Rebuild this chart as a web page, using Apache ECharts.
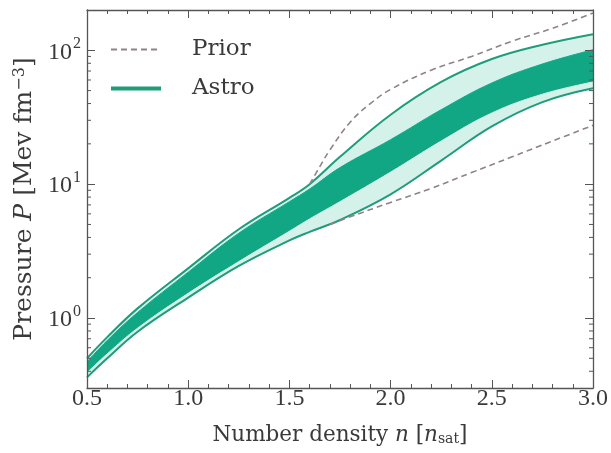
<!DOCTYPE html>
<html>
<head>
<meta charset="utf-8">
<script src="https://cdn.jsdelivr.net/npm/echarts@6/dist/echarts.min.js"></script>
<style>
  html, body { margin: 0; padding: 0; background: #fff; }
  #chart { width: 611px; height: 453px; }
</style>
</head>
<body>
<div id="chart"></div>
<script>
// number density grid (n_sat)
const nGrid = [0.5, 0.6, 0.75, 1.0, 1.25, 1.5, 1.6, 1.75, 2.0, 2.25, 2.5, 2.75, 3.0];

// astro posterior, outer (light) band edges
const astroOuterUpper = [0.50, 0.72, 1.18, 2.35, 4.6, 7.9, 10.0, 16.0, 33, 58, 86, 110, 132];
const astroOuterLower = [0.36, 0.50, 0.79, 1.42, 2.45, 3.8, 4.4, 5.4, 8.4, 15.0, 27, 41, 52];
// astro posterior, inner (dark) band edges
const astroInnerUpper = [0.47, 0.68, 1.10, 2.20, 4.3, 7.4, 9.2, 13.3, 21.5, 36, 57, 79, 101];
const astroInnerLower = [0.39, 0.54, 0.84, 1.53, 2.64, 4.45, 5.5, 7.4, 12.3, 21, 34, 47, 58];

// prior band (only where it leaves the astro band)
const priorUpperN = [1.6, 1.65, 1.7, 1.8, 1.9, 2.0, 2.2, 2.4, 2.6, 2.8, 3.0];
const priorUpperP = [10.0, 13.5, 18, 29, 40, 51, 71, 90, 117, 146, 190];
const priorLowerN = [1.7, 1.8, 2.0, 2.2, 2.4, 2.6, 2.8, 3.0];
const priorLowerP = [5.0, 5.7, 7.3, 9.3, 12.2, 16, 21, 27.5];

// axis ticks
const xTicks = ['0.5', '1.0', '1.5', '2.0', '2.5', '3.0'];
const yMinorTicks = [0.4, 0.5, 0.6, 0.7, 0.8, 0.9, 2, 3, 4, 5, 6, 7, 8, 9, 20, 30, 40, 50, 60, 70, 80, 90];

const xMin = 0.5, xMax = 3.0, yMin = 0.3, yMax = 200;

const font = 'Liberation Serif';
const titleFont = 'DejaVu Serif';
const axisColor = '#555';
const textColor = '#3a3a3a';
const edgeColor = '#1e9c7b';
const darkFill = '#12a784';
const lightFill = '#d4f2ea';
const priorColor = '#8e8388';

const pair = (xs, ys) => xs.map((x, i) => [x, ys[i]]);

const chart = echarts.init(document.getElementById('chart'));

const xAxisBase = {
    type: 'value',
    min: xMin,
    max: xMax,
    interval: 0.5,
    z: 5,
    axisLine: { lineStyle: { color: axisColor, width: 1.3 } },
    axisTick: { inside: true, length: 8, lineStyle: { color: axisColor } },
    minorTick: { show: true, splitNumber: 5, length: 4, lineStyle: { color: axisColor } },
    splitLine: { show: false }
};

const yAxisBase = {
    type: 'log',
    logBase: 10,
    min: yMin,
    max: yMax,
    z: 5,
    axisLine: { show: true, lineStyle: { color: axisColor, width: 1.3 } },
    axisTick: { show: true, inside: true, length: 8, lineStyle: { color: axisColor } },
    splitLine: { show: false }
};

const option = {
    animation: false,
    backgroundColor: '#fff',
    grid: { left: 87, right: 18, top: 10, bottom: 65, containLabel: false },
    legend: {
        orient: 'vertical',
        left: 104,
        top: 33,
        itemWidth: 50,
        itemHeight: 14,
        itemGap: 16,
        selectedMode: false,
        itemStyle: { opacity: 0 },
        textStyle: { fontFamily: titleFont, fontSize: 23, color: textColor, padding: [0, 0, 0, 26] },
        data: [
            { name: 'Prior' },
            { name: 'Astro', lineStyle: { width: 4, color: edgeColor } }
        ]
    },
    xAxis: [
        Object.assign({}, xAxisBase, {
            position: 'bottom',
            name: 'Number density {i|n} [{i|n}{sub|sat}]',
            nameLocation: 'middle',
            nameGap: 36,
            nameTextStyle: {
                fontFamily: titleFont, fontSize: 21.5, color: textColor,
                rich: {
                    i: { fontFamily: titleFont, fontSize: 21.5, fontStyle: 'italic', color: textColor },
                    sub: { fontFamily: titleFont, fontSize: 14, color: textColor, verticalAlign: 'bottom', padding: [6, 0, 0, 0] }
                }
            },
            axisLabel: {
                fontFamily: font, fontSize: 24, color: textColor, margin: -1,
                formatter: v => xTicks.find(t => Math.abs(parseFloat(t) - v) < 1e-6) || ''
            }
        }),
        Object.assign({}, xAxisBase, {
            position: 'top',
            axisLabel: { show: false }
        })
    ],
    yAxis: [
        Object.assign({}, yAxisBase, {
            position: 'left',
            name: 'Pressure {i|P} [Mev fm{sup|−3}]',
            nameLocation: 'middle',
            nameGap: 46,
            nameRotate: 90,
            nameTextStyle: {
                fontFamily: titleFont, fontSize: 25, color: textColor,
                rich: {
                    i: { fontFamily: titleFont, fontSize: 25, fontStyle: 'italic', color: textColor },
                    sup: { fontFamily: titleFont, fontSize: 16, color: textColor, verticalAlign: 'top', padding: [0, 0, 8, 0] }
                }
            },
            axisLabel: {
                margin: 6,
                formatter: v => {
                    const e = Math.log10(v);
                    if (Math.abs(e - Math.round(e)) > 1e-6) return '';
                    return '{b|10}{s|' + Math.round(e) + '}';
                },
                rich: {
                    b: { fontFamily: font, fontSize: 24, color: textColor, padding: [4, 0, 0, 0] },
                    s: { fontFamily: font, fontSize: 16, color: textColor, verticalAlign: 'top', padding: [0, 0, 10, 1] }
                }
            }
        }),
        Object.assign({}, yAxisBase, {
            position: 'right',
            axisLabel: { show: false }
        })
    ],
    series: [
        {
            name: 'Astro',
            type: 'line',
            data: pair(nGrid, astroOuterUpper),
            smooth: 0.4,
            symbol: 'none',
            z: 2,
            lineStyle: { color: edgeColor, width: 2 },
            areaStyle: { color: lightFill, opacity: 1, origin: 'start' }
        },
        {
            name: 'inner upper',
            type: 'line',
            data: pair(nGrid, astroInnerUpper),
            smooth: 0.4,
            symbol: 'none',
            z: 2,
            lineStyle: { color: darkFill, width: 1 },
            areaStyle: { color: darkFill, opacity: 1, origin: 'start' }
        },
        {
            name: 'inner lower',
            type: 'line',
            data: pair(nGrid, astroInnerLower),
            smooth: 0.4,
            symbol: 'none',
            z: 2,
            lineStyle: { color: lightFill, width: 1 },
            areaStyle: { color: lightFill, opacity: 1, origin: 'start' }
        },
        {
            name: 'Astro',
            type: 'line',
            data: pair(nGrid, astroOuterLower),
            smooth: 0.4,
            symbol: 'none',
            z: 2,
            lineStyle: { color: edgeColor, width: 2 },
            areaStyle: { color: '#fff', opacity: 1, origin: 'start' }
        },
        {
            name: 'Prior',
            type: 'line',
            data: pair(priorUpperN, priorUpperP),
            smooth: 0.4,
            symbol: 'none',
            z: 3,
            lineStyle: { color: priorColor, width: 1.6, type: [6, 4] }
        },
        {
            name: 'Prior',
            type: 'line',
            data: pair(priorLowerN, priorLowerP),
            smooth: 0.4,
            symbol: 'none',
            z: 3,
            lineStyle: { color: priorColor, width: 1.6, type: [6, 4] }
        },
        {
            // minor log ticks on left and right frame
            type: 'custom',
            silent: true,
            z: 6,
            data: yMinorTicks.map(v => [xMin, v]),
            renderItem: (params, api) => {
                const v = api.value(1);
                const l = api.coord([xMin, v]);
                const r = api.coord([xMax, v]);
                const style = { stroke: axisColor, lineWidth: 1 };
                return {
                    type: 'group',
                    children: [
                        { type: 'line', shape: { x1: l[0], y1: l[1], x2: l[0] + 4, y2: l[1] }, style },
                        { type: 'line', shape: { x1: r[0], y1: r[1], x2: r[0] - 4, y2: r[1] }, style }
                    ]
                };
            }
        }
    ]
};

chart.setOption(option);
</script>
</body>
</html>
